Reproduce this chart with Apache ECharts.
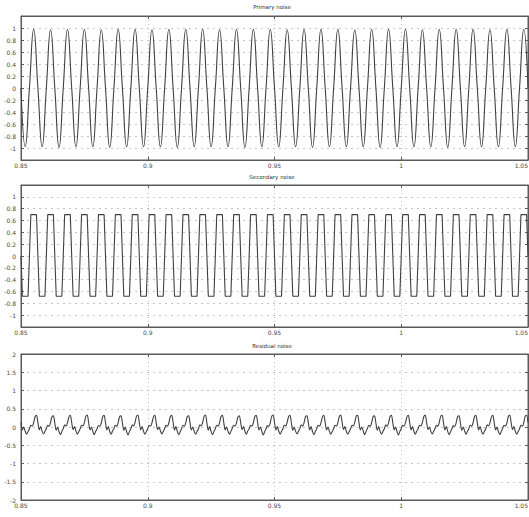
<!DOCTYPE html>
<html>
<head>
<meta charset="utf-8">
<script src="https://cdn.jsdelivr.net/npm/echarts@6/dist/echarts.min.js"></script>
<style>
  html, body { margin: 0; padding: 0; background: #ffffff; }
  #chart { width: 529px; height: 517px; }
</style>
</head>
<body>
<div id="chart"></div>
<script>
// Panel titles, top to bottom
const panelTitles = ['Primary noise', 'Secondary noise', 'Residual noise'];

// Time axis (seconds)
const xTicks = [0.85, 0.9, 0.95, 1, 1.05];
const timeStart = 0.85;
const coarseStep = 1 / 600;   // primary noise sample spacing
const fineStep = 1 / 1800;    // secondary / residual sample spacing

// Y axis ranges: [min, max, interval]
const primaryY = [-1.2, 1.2, 0.2];
const secondaryY = [-1.2, 1.2, 0.2];
const residualY = [-2, 2, 0.5];

// Primary noise: 150 Hz tone, crossings and extremes
const primaryNoise = [
  0,-0.98,0,0.98, 0,-0.98,0,0.97, 0,-0.99,0,0.98, 0,-0.98,0,0.98, 0,-0.98,0,0.97,
  0,-0.99,0,0.98, 0,-0.98,0,0.98, 0,-0.98,0,0.97, 0,-0.98,0,0.98, 0,-0.99,0,0.98,
  0,-0.98,0,0.98, 0,-0.98,0,0.97, 0,-0.98,0,0.98, 0,-0.99,0,0.98, 0,-0.98,0,0.98,
  0,-0.98,0,0.97, 0,-0.98,0,0.98, 0,-0.99,0,0.98, 0,-0.98,0,0.98, 0,-0.98,0,0.97,
  0,-0.98,0,0.98, 0,-0.99,0,0.98, 0,-0.98,0,0.98, 0,-0.98,0,0.97, 0,-0.98,0,0.98,
  0,-0.99,0,0.98, 0,-0.98,0,0.98, 0,-0.98,0,0.97, 0,-0.98,0,0.98, 0,-0.98,0,0.98,
  0
];

// Secondary noise: saturated (trapezoidal) anti-noise
const secondaryNoise = [
  0,-0.68,-0.68,-0.68,-0.68,-0.68,0,0.7,0.7,0.7,0.7,0.7,
  0,-0.68,-0.68,-0.68,-0.68,-0.68,0,0.7,0.7,0.7,0.7,0.7,
  0,-0.68,-0.68,-0.68,-0.68,-0.68,0,0.7,0.7,0.7,0.7,0.7,
  0,-0.68,-0.68,-0.68,-0.68,-0.68,0,0.7,0.7,0.7,0.7,0.7,
  0,-0.68,-0.68,-0.68,-0.68,-0.68,0,0.7,0.7,0.7,0.7,0.7,
  0,-0.68,-0.68,-0.68,-0.68,-0.68,0,0.7,0.7,0.7,0.7,0.7,
  0,-0.68,-0.68,-0.68,-0.68,-0.68,0,0.7,0.7,0.7,0.7,0.7,
  0,-0.68,-0.68,-0.68,-0.68,-0.68,0,0.7,0.7,0.7,0.7,0.7,
  0,-0.68,-0.68,-0.68,-0.68,-0.68,0,0.7,0.7,0.7,0.7,0.7,
  0,-0.68,-0.68,-0.68,-0.68,-0.68,0,0.7,0.7,0.7,0.7,0.7,
  0,-0.68,-0.68,-0.68,-0.68,-0.68,0,0.7,0.7,0.7,0.7,0.7,
  0,-0.68,-0.68,-0.68,-0.68,-0.68,0,0.7,0.7,0.7,0.7,0.7,
  0,-0.68,-0.68,-0.68,-0.68,-0.68,0,0.7,0.7,0.7,0.7,0.7,
  0,-0.68,-0.68,-0.68,-0.68,-0.68,0,0.7,0.7,0.7,0.7,0.7,
  0,-0.68,-0.68,-0.68,-0.68,-0.68,0,0.7,0.7,0.7,0.7,0.7,
  0,-0.68,-0.68,-0.68,-0.68,-0.68,0,0.7,0.7,0.7,0.7,0.7,
  0,-0.68,-0.68,-0.68,-0.68,-0.68,0,0.7,0.7,0.7,0.7,0.7,
  0,-0.68,-0.68,-0.68,-0.68,-0.68,0,0.7,0.7,0.7,0.7,0.7,
  0,-0.68,-0.68,-0.68,-0.68,-0.68,0,0.7,0.7,0.7,0.7,0.7,
  0,-0.68,-0.68,-0.68,-0.68,-0.68,0,0.7,0.7,0.7,0.7,0.7,
  0,-0.68,-0.68,-0.68,-0.68,-0.68,0,0.7,0.7,0.7,0.7,0.7,
  0,-0.68,-0.68,-0.68,-0.68,-0.68,0,0.7,0.7,0.7,0.7,0.7,
  0,-0.68,-0.68,-0.68,-0.68,-0.68,0,0.7,0.7,0.7,0.7,0.7,
  0,-0.68,-0.68,-0.68,-0.68,-0.68,0,0.7,0.7,0.7,0.7,0.7,
  0,-0.68,-0.68,-0.68,-0.68,-0.68,0,0.7,0.7,0.7,0.7,0.7,
  0,-0.68,-0.68,-0.68,-0.68,-0.68,0,0.7,0.7,0.7,0.7,0.7,
  0,-0.68,-0.68,-0.68,-0.68,-0.68,0,0.7,0.7,0.7,0.7,0.7,
  0,-0.68,-0.68,-0.68,-0.68,-0.68,0,0.7,0.7,0.7,0.7,0.7,
  0,-0.68,-0.68,-0.68,-0.68,-0.68,0,0.7,0.7,0.7,0.7,0.7,
  0,-0.68,-0.68,-0.68,-0.68,-0.68,0,0.7,0.7,0.7,0.7,0.7,
  0
];

// Residual noise: what is left after cancellation
const residualNoise = [
  0.12,-0.08,0.00,-0.12,-0.20,-0.12,-0.05,0.05,0.02,0.12,0.28,0.32,
  0.12,-0.08,0.01,-0.12,-0.19,-0.12,-0.05,0.05,0.02,0.13,0.28,0.31,
  0.11,-0.09,0.00,-0.13,-0.21,-0.12,-0.04,0.06,0.02,0.12,0.27,0.32,
  0.12,-0.07,0.01,-0.11,-0.20,-0.13,-0.05,0.05,0.03,0.12,0.29,0.33,
  0.13,-0.08,0.00,-0.12,-0.21,-0.12,-0.05,0.04,0.02,0.11,0.28,0.32,
  0.12,-0.08,0.01,-0.12,-0.20,-0.11,-0.04,0.05,0.02,0.12,0.28,0.31,
  0.11,-0.09,0.00,-0.13,-0.22,-0.12,-0.05,0.06,0.03,0.13,0.29,0.33,
  0.12,-0.08,0.01,-0.12,-0.20,-0.12,-0.05,0.05,0.02,0.12,0.27,0.32,
  0.12,-0.07,0.00,-0.11,-0.19,-0.12,-0.04,0.05,0.02,0.12,0.28,0.32,
  0.13,-0.08,0.01,-0.12,-0.21,-0.13,-0.05,0.05,0.02,0.12,0.28,0.31,
  0.12,-0.08,0.00,-0.12,-0.20,-0.12,-0.05,0.06,0.03,0.13,0.29,0.33,
  0.11,-0.09,0.01,-0.13,-0.21,-0.12,-0.05,0.05,0.02,0.12,0.28,0.32,
  0.12,-0.08,0.00,-0.12,-0.20,-0.12,-0.04,0.05,0.02,0.11,0.27,0.31,
  0.12,-0.07,0.01,-0.12,-0.20,-0.11,-0.05,0.05,0.02,0.12,0.28,0.32,
  0.13,-0.08,0.00,-0.12,-0.22,-0.13,-0.05,0.04,0.02,0.12,0.29,0.33,
  0.12,-0.08,0.01,-0.11,-0.20,-0.12,-0.05,0.05,0.03,0.13,0.28,0.32,
  0.11,-0.09,0.00,-0.12,-0.19,-0.12,-0.04,0.06,0.02,0.12,0.28,0.31,
  0.12,-0.08,0.01,-0.13,-0.21,-0.12,-0.05,0.05,0.02,0.12,0.27,0.32,
  0.12,-0.08,0.00,-0.12,-0.20,-0.12,-0.05,0.05,0.02,0.12,0.28,0.33,
  0.13,-0.07,0.01,-0.12,-0.20,-0.13,-0.05,0.05,0.03,0.13,0.29,0.32,
  0.12,-0.08,0.00,-0.11,-0.21,-0.12,-0.04,0.05,0.02,0.12,0.28,0.31,
  0.11,-0.09,0.01,-0.12,-0.20,-0.12,-0.05,0.06,0.02,0.11,0.28,0.32,
  0.12,-0.08,0.00,-0.13,-0.22,-0.12,-0.05,0.05,0.02,0.12,0.27,0.32,
  0.12,-0.08,0.01,-0.12,-0.20,-0.11,-0.05,0.05,0.03,0.12,0.28,0.33,
  0.13,-0.07,0.00,-0.12,-0.19,-0.12,-0.04,0.05,0.02,0.13,0.29,0.32,
  0.12,-0.08,0.01,-0.12,-0.21,-0.13,-0.05,0.04,0.02,0.12,0.28,0.31,
  0.11,-0.09,0.00,-0.11,-0.20,-0.12,-0.05,0.05,0.02,0.12,0.28,0.32,
  0.12,-0.08,0.01,-0.12,-0.20,-0.12,-0.05,0.06,0.03,0.12,0.27,0.32,
  0.12,-0.08,0.00,-0.13,-0.21,-0.12,-0.04,0.05,0.02,0.11,0.28,0.33,
  0.13,-0.07,0.01,-0.12,-0.20,-0.12,-0.05,0.05,0.02,0.12,0.29,0.32,
  0.12
];

const toPairs = (values, step) => values.map((v, i) => [timeStart + i * step, v]);
const tidy = v => String(Math.round(v * 1000) / 1000);

const ink = '#404040';
const frame = '#5a5a5a';
const labelColor = '#4a4a4a';

// Panel placement (px)
const panels = [
  { top: 16, height: 144 },
  { top: 185, height: 142 },
  { top: 354, height: 146 }
];
const yRanges = [primaryY, secondaryY, residualY];

const grids = panels.map(p => ({
  left: 21, right: 1, top: p.top, height: p.height,
  containLabel: false, outerBoundsMode: 'none',
  show: true, borderColor: frame, borderWidth: 1, backgroundColor: '#ffffff'
}));

const xAxes = [];
const yAxes = [];
panels.forEach((p, k) => {
  const common = {
    type: 'value', gridIndex: k,
    min: xTicks[0], max: xTicks[xTicks.length - 1], interval: xTicks[1] - xTicks[0],
    axisLine: { show: true, onZero: false, lineStyle: { color: frame, width: 1 } },
    axisTick: { show: true, inside: true, length: 3, lineStyle: { color: frame } }
  };
  xAxes.push(Object.assign({}, common, {
    position: 'bottom',
    axisLabel: { show: true, fontSize: 6, color: labelColor, margin: 2, fontFamily: 'DejaVu Sans',
                 showMinLabel: true, showMaxLabel: true, alignMaxLabel: 'right', formatter: tidy },
    splitLine: { show: true, lineStyle: { color: '#c4c4c4', type: [1, 3], width: 1 } }
  }));
  xAxes.push(Object.assign({}, common, {
    position: 'top', axisLabel: { show: false }, splitLine: { show: false }
  }));

  const r = yRanges[k];
  const showEnds = k === 2;
  const yCommon = {
    type: 'value', gridIndex: k, min: r[0], max: r[1], interval: r[2],
    axisLine: { show: true, onZero: false, lineStyle: { color: frame, width: 1 } },
    axisTick: { show: true, inside: true, length: 3, lineStyle: { color: frame } }
  };
  yAxes.push(Object.assign({}, yCommon, {
    position: 'left',
    axisLabel: { show: true, fontSize: 6, color: labelColor, margin: 5, fontFamily: 'DejaVu Sans',
                 showMinLabel: showEnds, showMaxLabel: showEnds, formatter: tidy },
    splitLine: { show: true, lineStyle: { color: '#c4c4c4', type: [2, 4], width: 1 } }
  }));
  yAxes.push(Object.assign({}, yCommon, {
    position: 'right', axisLabel: { show: false }, splitLine: { show: false }
  }));
});

const lineSeries = (data, k, smooth) => ({
  type: 'line', xAxisIndex: 2 * k, yAxisIndex: 2 * k,
  data: data, smooth: smooth, showSymbol: false, animation: false,
  lineStyle: { color: ink, width: 1.1 }
});

const series = [
  lineSeries(toPairs(primaryNoise, coarseStep), 0, 0.5),
  lineSeries(toPairs(secondaryNoise, fineStep), 1, false),
  lineSeries(toPairs(residualNoise, fineStep), 2, 0.3)
];

const titleY = [7, 177, 346];
const graphic = panelTitles.map((t, k) => ({
  type: 'text', x: 272, y: titleY[k], silent: true,
  style: { text: t, fontSize: 5.5, fill: '#333', align: 'center', verticalAlign: 'middle',
           fontFamily: 'DejaVu Sans' }
}));

const chart = echarts.init(document.getElementById('chart'), null, { renderer: 'svg' });
chart.setOption({
  animation: false,
  backgroundColor: '#ffffff',
  grid: grids,
  xAxis: xAxes,
  yAxis: yAxes,
  series: series,
  graphic: graphic
});
</script>
</body>
</html>
